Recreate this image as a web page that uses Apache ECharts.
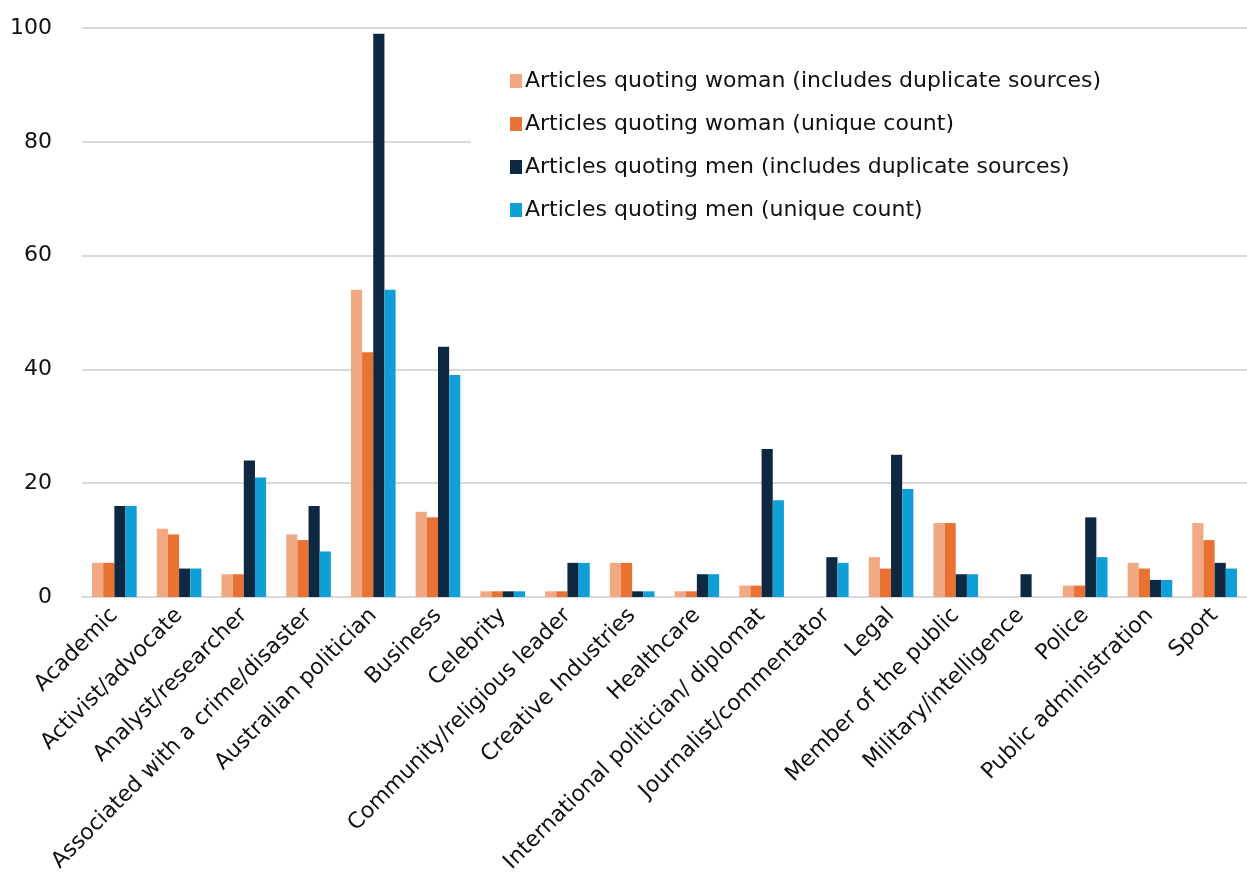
<!DOCTYPE html>
<html>
<head>
<meta charset="utf-8">
<title>Articles quoting women and men by source type</title>
<script src="https://cdn.jsdelivr.net/npm/echarts@6/dist/echarts.min.js"></script>
<style>
  html, body { margin: 0; padding: 0; background: #ffffff; }
  #chart { width: 1247px; height: 884px; }
</style>
</head>
<body>
<div id="chart"></div>
<script>
// Source categories along the x axis
const categories = [
  'Academic',
  'Activist/advocate',
  'Analyst/researcher',
  'Associated with a crime/disaster',
  'Australian politician',
  'Business',
  'Celebrity',
  'Community/religious leader',
  'Creative Industries',
  'Healthcare',
  'International politician/ diplomat',
  'Journalist/commentator',
  'Legal',
  'Member of the public',
  'Military/intelligence',
  'Police',
  'Public administration',
  'Sport'
];

// Series names (legend order)
const seriesNames = [
  'Articles quoting woman (includes duplicate sources)',
  'Articles quoting woman (unique count)',
  'Articles quoting men (includes duplicate sources)',
  'Articles quoting men (unique count)'
];

// Counts per category, one array per series
const womenWithDuplicates = [6, 12, 4, 11, 54, 15, 1, 1, 6, 1, 2, 0, 7, 13, 0, 2, 6, 13];
const womenUnique         = [6, 11, 4, 10, 43, 14, 1, 1, 6, 1, 2, 0, 5, 13, 0, 2, 5, 10];
const menWithDuplicates   = [16, 5, 24, 16, 99, 44, 1, 6, 1, 4, 26, 7, 25, 4, 4, 14, 3, 6];
const menUnique           = [16, 5, 21, 8, 54, 39, 1, 6, 1, 4, 17, 6, 19, 4, 0, 7, 3, 5];

// Y axis ticks
const yMin = 0;
const yMax = 100;
const yInterval = 20;

const palette = ['#F1A983', '#E97132', '#0E2841', '#0F9ED5'];
const fontFamily = '"DejaVu Sans", "Open Sans", sans-serif';

const values = [womenWithDuplicates, womenUnique, menWithDuplicates, menUnique];

const chart = echarts.init(document.getElementById('chart'), null, { renderer: 'canvas' });

chart.setOption({
  animation: false,
  backgroundColor: '#ffffff',
  color: palette,
  textStyle: { fontFamily: fontFamily, color: '#000000' },
  grid: {
    left: 82,
    right: -11,
    top: 28,
    bottom: 287,
    containLabel: false
  },
  legend: {
    orient: 'vertical',
    left: 471,
    top: 47,
    padding: [23, 400, 23, 39],
    backgroundColor: '#ffffff',
    itemWidth: 12,
    itemHeight: 14,
    itemGap: 21,
    icon: 'rect',
    data: seriesNames,
    textStyle: {
      fontFamily: fontFamily,
      fontSize: 22,
      color: '#111111',
      padding: [0, 0, 0, -2]
    },
    selectedMode: false,
    z: 10
  },
  xAxis: {
    type: 'category',
    data: categories,
    axisLine: { show: true, lineStyle: { color: '#D9D9D9', width: 2 } },
    axisTick: { show: false },
    axisLabel: {
      rotate: 45,
      interval: 0,
      margin: 15,
      fontSize: 22,
      color: '#111111',
      fontFamily: fontFamily
    }
  },
  yAxis: {
    type: 'value',
    min: yMin,
    max: yMax,
    interval: yInterval,
    axisLine: { show: false },
    axisTick: { show: false },
    axisLabel: {
      fontSize: 22,
      color: '#111111',
      margin: 30,
      fontFamily: fontFamily
    },
    splitLine: { show: true, lineStyle: { color: '#D9D9D9', width: 2 } }
  },
  series: seriesNames.map((name, i) => ({
    name: name,
    type: 'bar',
    data: values[i],
    barGap: '0%',
    barCategoryGap: '31%',
    itemStyle: { color: palette[i] },
    z: 2
  }))
});
</script>
</body>
</html>
